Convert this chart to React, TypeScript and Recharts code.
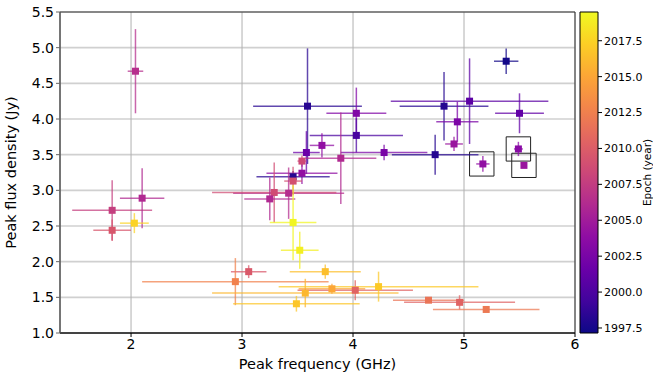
import {
  ScatterChart,
  Scatter,
  ComposedChart,
  XAxis,
  YAxis,
  CartesianGrid,
  ErrorBar,
  ReferenceArea,
} from 'recharts';

// peak frequency (GHz), peak flux density (Jy), their errors, and epoch (year)
const freq = [2.04, 3.59, 5.38, 4.82, 5.05, 5.5, 4.94, 4.91, 4.74, 5.17, 5.49, 5.54, 4.03, 4.03, 4.28, 3.72, 3.58, 3.89, 3.54, 3.54, 3.46, 3.46, 3.42, 3.29, 3.25, 3.46, 3.52, 3.06, 2.94, 3.75, 3.57, 3.49, 3.81, 4.02, 4.23, 4.68, 4.96, 5.2, 1.83, 1.83, 2.1, 2.03];
const flux = [4.67, 4.18, 4.81, 4.18, 4.25, 4.08, 3.96, 3.65, 3.5, 3.37, 3.58, 3.35, 4.08, 3.77, 3.53, 3.63, 3.53, 3.45, 3.41, 3.24, 3.19, 3.13, 2.96, 2.97, 2.88, 2.55, 2.16, 1.86, 1.72, 1.86, 1.56, 1.41, 1.62, 1.6, 1.65, 1.46, 1.43, 1.33, 2.72, 2.44, 2.89, 2.54];
const freqErr = [0.07, 0.49, 0.11, 0.4, 0.71, 0.22, 0.19, 0.08, 0.39, 0.06, 0.04, 0, 0.27, 0.42, 0.39, 0.11, 0.12, 0.32, 0.04, 0.32, 0.33, 0.08, 0.5, 0.56, 0.23, 0.21, 0.17, 0.16, 0.84, 0.32, 0.84, 0.57, 0.3, 0.52, 0.9, 0.32, 0.5, 0.48, 0.36, 0.17, 0.2, 0.13];
const fluxErr = [0.59, 0.81, 0.18, 0.48, 0.6, 0.28, 0.28, 0.1, 0.28, 0.11, 0.1, 0, 0.36, 0.24, 0.11, 0.17, 0.3, 0.64, 0.08, 0.15, 0.08, 0.2, 0.36, 0.42, 0.3, 0.53, 0.26, 0.09, 0.33, 0.1, 0.2, 0.11, 0.07, 0.14, 0.21, 0.03, 0.1, 0.03, 0.42, 0.15, 0.42, 0.14];
const epoch = [2006.5, 1998.3, 1997.4, 1998.2, 2000.8, 2001.2, 2002.7, 2004.5, 1998.2, 2004.0, 2003.5, 2004.5, 2003.0, 1999.8, 2002.5, 2004.0, 2001.6, 2006.0, 2008.5, 2004.0, 1998.3, 2009.0, 2006.3, 2008.7, 2006.0, 2019.3, 2019.0, 2009.7, 2012.6, 2016.4, 2016.0, 2016.8, 2015.0, 2010.5, 2017.0, 2011.7, 2010.5, 2012.0, 2007.7, 2009.5, 2006.0, 2017.5];

// highlighted boxes: [xMin, xMax, yMin, yMax]
const boxes = [
  [5.05, 5.27, 3.2, 3.54],
  [5.38, 5.6, 3.41, 3.75],
  [5.43, 5.65, 3.18, 3.52],
];

const xTicks = [2, 3, 4, 5, 6];
const yTicks = [1.0, 1.5, 2.0, 2.5, 3.0, 3.5, 4.0, 4.5, 5.0, 5.5];
const epochTicks = [1997.5, 2000.0, 2002.5, 2005.0, 2007.5, 2010.0, 2012.5, 2015.0, 2017.5];
const epochMin = 1997.15;
const epochMax = 2019.5;

const plasma = ['#0d0887', '#41049d', '#6a00a8', '#8f0da4', '#b12a90', '#cc4778', '#e16462', '#f2844b', '#fca636', '#fcce25', '#f0f921'];

function hexToRgb(h: string) {
  return [1, 3, 5].map((i) => parseInt(h.slice(i, i + 2), 16));
}

function plasmaColor(year: number) {
  let t = (year - epochMin) / (epochMax - epochMin);
  t = Math.max(0, Math.min(1, t));
  const p = t * (plasma.length - 1);
  const i = Math.min(Math.floor(p), plasma.length - 2);
  const f = p - i;
  const a = hexToRgb(plasma[i]);
  const b = hexToRgb(plasma[i + 1]);
  const c = a.map((v, k) => Math.round(v + (b[k] - v) * f));
  return '#' + c.map((v) => v.toString(16).padStart(2, '0')).join('');
}

const points = freq.map((x, i) => ({
  x,
  y: flux[i],
  ex: freqErr[i],
  ey: fluxErr[i],
  color: plasmaColor(epoch[i]),
}));

const font = 'DejaVu Sans, sans-serif';

export default function App() {
  return (
    <div style={{ position: 'absolute', left: 0, top: 0, width: 653, height: 373, background: '#fff', fontFamily: font }}>
      <div style={{ position: 'absolute', left: 0, top: 0 }}>
        <ScatterChart width={653} height={373} margin={{ top: 12, right: 78, bottom: 0, left: 0 }}>
          <CartesianGrid vertical={false} stroke="#d0d0d0" strokeWidth={1.6} />
          <CartesianGrid horizontal={false} stroke="#b0b0b0" strokeWidth={1} />
          <XAxis
            type="number"
            dataKey="x"
            domain={[1.36, 6]}
            ticks={xTicks}
            allowDataOverflow
            height={40}
            tickSize={4}
            tick={{ fill: '#000', fontSize: 14 }}
            stroke="#000"
            label={{ value: 'Peak frequency (GHz)', position: 'insideBottom', offset: 4, fill: '#000', fontSize: 14.5 }}
          />
          <YAxis
            type="number"
            dataKey="y"
            domain={[1, 5.5]}
            ticks={yTicks}
            allowDataOverflow
            width={60}
            tickSize={4}
            tick={{ fill: '#000', fontSize: 14 }}
            tickFormatter={(v: number) => v.toFixed(1)}
            stroke="#666"
            label={{
              value: 'Peak flux density (Jy)',
              angle: -90,
              position: 'insideLeft',
              offset: 11,
              fill: '#000',
              fontSize: 14.5,
              style: { textAnchor: 'middle' },
            }}
          />
          {points.map((p, i) => (
            <Scatter
              key={i}
              data={[p]}
              isAnimationActive={false}
              shape={(s: any) => (
                <rect x={s.cx - 3.5} y={s.cy - 3.5} width={7} height={7} fill={p.color} />
              )}
            >
              <ErrorBar dataKey="ex" direction="x" width={0} stroke={p.color + 'bb'} strokeWidth={1.5} isAnimationActive={false} />
              <ErrorBar dataKey="ey" direction="y" width={0} stroke={p.color + 'bb'} strokeWidth={1.5} isAnimationActive={false} />
            </Scatter>
          ))}
          {boxes.map((b, i) => (
            <ReferenceArea key={i} x1={b[0]} x2={b[1]} y1={b[2]} y2={b[3]} fill="none" stroke="#222" strokeWidth={1} fillOpacity={0} />
          ))}
          <ReferenceArea x1={1.36} x2={6} y1={1} y2={5.5} fill="none" fillOpacity={0} stroke="#333" strokeWidth={1} />
        </ScatterChart>
      </div>
      <div style={{ position: 'absolute', left: 575, top: 0 }}>
        <ComposedChart width={78} height={373} data={[{ x: 0.5, y: 2000 }]} margin={{ top: 12, right: 0, bottom: 40, left: 5 }}>
          <defs>
            <linearGradient id="plasmaGrad" x1="0" y1="1" x2="0" y2="0">
              {plasma.map((c, i) => (
                <stop key={i} offset={`${(i / (plasma.length - 1)) * 100}%`} stopColor={c} />
              ))}
            </linearGradient>
          </defs>
          <XAxis type="number" dataKey="x" domain={[0, 1]} hide />
          <YAxis
            type="number"
            dataKey="y"
            orientation="right"
            domain={[epochMin, epochMax]}
            ticks={epochTicks}
            allowDataOverflow
            width={55}
            tickSize={4}
            axisLine={false}
            stroke="#000"
            tick={{ fill: '#000', fontSize: 11 }}
            tickFormatter={(v: number) => v.toFixed(1)}
            label={{
              value: 'Epoch (year)',
              angle: -90,
              position: 'insideRight',
              offset: 6,
              fill: '#000',
              fontSize: 10.5,
              style: { textAnchor: 'middle' },
            }}
          />
          <ReferenceArea x1={0} x2={1} y1={epochMin} y2={epochMax} fill="url(#plasmaGrad)" fillOpacity={1} stroke="#000" strokeWidth={1} />
        </ComposedChart>
      </div>
    </div>
  );
}
